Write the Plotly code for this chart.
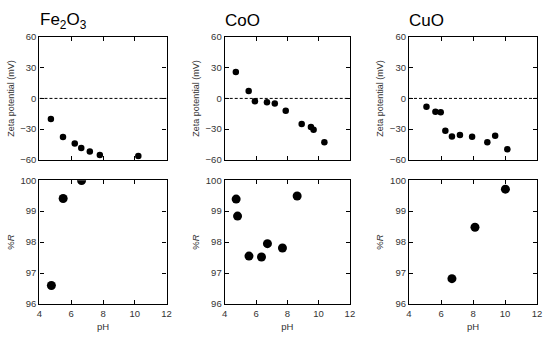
import plotly.graph_objects as go

titles = ["Fe<sub>2</sub>O<sub>3</sub>", "CoO", "CuO"]

fe_zeta_ph = [4.72, 5.48, 6.22, 6.63, 7.17, 7.8, 10.22]
fe_zeta = [-20, -37.6, -44, -48.3, -51.8, -55.3, -56.2]
co_zeta_ph = [4.71, 5.53, 5.93, 6.7, 7.2, 7.9, 8.92, 9.51, 9.68, 10.37]
co_zeta = [25.9, 7.3, -2.8, -3.8, -5.0, -12.0, -24.9, -27.8, -30.6, -42.9]
cu_zeta_ph = [5.09, 5.65, 5.98, 6.27, 6.68, 7.18, 7.94, 8.89, 9.38, 10.14]
cu_zeta = [-8.2, -12.9, -13.6, -31.5, -37.2, -35.6, -37.5, -42.8, -36.5, -49.7]

fe_r_ph = [4.75, 5.49, 6.65]
fe_r = [96.6, 99.41, 99.99]
co_r_ph = [4.73, 4.82, 5.55, 6.35, 6.73, 7.69, 8.63]
co_r = [99.39, 98.84, 97.55, 97.52, 97.95, 97.81, 99.49]
cu_r_ph = [6.68, 8.12, 10.02]
cu_r = [96.82, 98.48, 99.71]

zeta_ph = [fe_zeta_ph, co_zeta_ph, cu_zeta_ph]
zeta_vals = [fe_zeta, co_zeta, cu_zeta]
r_ph = [fe_r_ph, co_r_ph, cu_r_ph]
r_vals = [fe_r, co_r, cu_r]

W, H = 550, 341
x_px = [(37, 166), (225, 352), (412, 542)]
top_px = (32, 159)
bot_px = (180, 308)

def ydom(p):
    return [1 - p[1] / H, 1 - p[0] / H]

fig = go.Figure()
font = dict(family="Liberation Sans, Arial, sans-serif", size=9, color="#333")

axis_common = dict(showline=True, linecolor="black", linewidth=1.3, mirror="allticks",
                   ticks="inside", ticklen=4, tickwidth=1, tickcolor="black",
                   showgrid=False, zeroline=False, tickfont=dict(size=9.5, color="#333"))

layout = {}
n = 1
for i in range(3):
    xd = [x_px[i][0] / W, x_px[i][1] / W]
    xa_t, ya_t = n, n
    n += 1
    xa_b, ya_b = n, n
    n += 1
    def nm(k, ax):
        return ax + ("" if k == 1 else str(k))
    layout[nm(xa_t, "xaxis")] = dict(domain=xd, anchor=nm(ya_t, "y"), range=[4, 12], dtick=2,
                                     showticklabels=False, **axis_common)
    layout[nm(ya_t, "yaxis")] = dict(domain=ydom(top_px), anchor=nm(xa_t, "x"), range=[-60, 60], dtick=30,
                                     title=dict(text="Zeta potential (mV)", font=dict(size=9, color="#333"), standoff=4),
                                     **axis_common)
    layout[nm(xa_b, "xaxis")] = dict(domain=xd, anchor=nm(ya_b, "y"), range=[4, 12], dtick=2,
                                     title=dict(text="pH", font=dict(size=9.5, color="#333"), standoff=5),
                                     **axis_common)
    layout[nm(ya_b, "yaxis")] = dict(domain=ydom(bot_px), anchor=nm(xa_b, "x"), range=[96, 100], dtick=1,
                                     title=dict(text="%<i>R</i>", font=dict(size=9.5, color="#333"), standoff=4),
                                     **axis_common)
    fig.add_trace(go.Scatter(x=zeta_ph[i], y=zeta_vals[i], mode="markers",
                             marker=dict(size=6.5, color="black"),
                             xaxis=nm(xa_t, "x"), yaxis=nm(ya_t, "y"), showlegend=False))
    fig.add_trace(go.Scatter(x=r_ph[i], y=r_vals[i], mode="markers",
                             marker=dict(size=9, color="black"),
                             xaxis=nm(xa_b, "x"), yaxis=nm(ya_b, "y"), showlegend=False))
    fig.add_shape(type="line", x0=4, x1=12, y0=0, y1=0, xref=nm(xa_t, "x"), yref=nm(ya_t, "y"),
                  line=dict(color="black", width=1, dash="3px,2px"))
    fig.add_annotation(text=titles[i], x=x_px[i][0] / W - 0.003, y=1 - 15 / H, xref="paper", yref="paper",
                       xanchor="left", yanchor="middle", showarrow=False,
                       font=dict(family="Liberation Sans, Arial, sans-serif", size=17, color="black"))

fig.update_layout(width=W, height=H, autosize=False, margin=dict(l=0, r=0, t=0, b=0),
                  plot_bgcolor="white", paper_bgcolor="white", font=font, **layout)

fig.write_html("out.html", config={"displayModeBar": False},
               post_script="document.body.style.margin='0';document.body.style.overflow='hidden';")
